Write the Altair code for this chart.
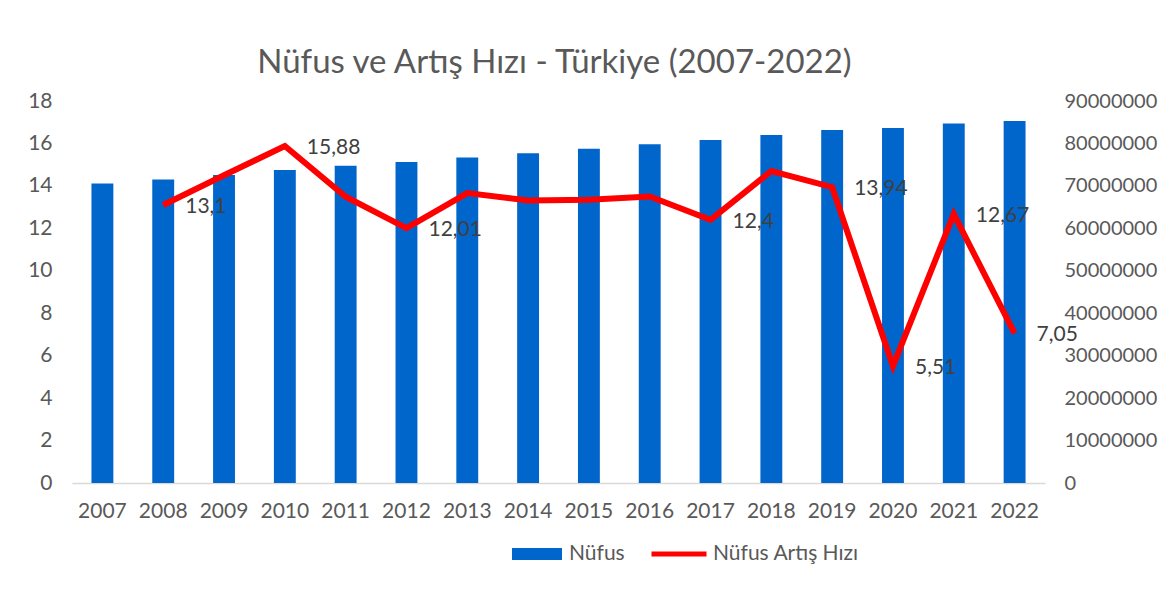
import altair as alt
import pandas as pd

years = [str(y) for y in range(2007, 2023)]
population = [70586256, 71517100, 72561312, 73722988, 74724269, 75627384, 76667864,
              77695904, 78741053, 79814871, 80810525, 82003882, 83154997, 83614362,
              84680273, 85279553]
rate = [None, 13.1, 14.5, 15.88, 13.49, 12.01, 13.66, 13.31, 13.35, 13.5, 12.4,
        14.7, 13.94, 5.51, 12.67, 7.05]
rate_labels = ["", "13,1", "", "15,88", "", "12,01", "", "", "", "", "12,4",
               "", "13,94", "5,51", "12,67", "7,05"]

df = pd.DataFrame({"year": years, "pop": population, "rate": rate, "lab": rate_labels})

FONT = "Lato"
GREY = "#595959"

x_enc = alt.X("year:O", title=None,
              scale=alt.Scale(paddingInner=0.64, paddingOuter=0.32),
              axis=alt.Axis(labelAngle=0, labelFontSize=21, labelColor=GREY, labelFont=FONT,
                            domainColor="#D9D9D9", domainWidth=1.5, ticks=False,
                            labelPadding=17, grid=False))

bars = alt.Chart(df).transform_calculate(series="'Nüfus'").mark_bar(color="#0066CC").encode(
    x=x_enc,
    y=alt.Y("pop:Q", title=None,
            scale=alt.Scale(domain=[0, 90000000], nice=False),
            axis=alt.Axis(orient="right", values=list(range(0, 90000001, 10000000)),
                          format="d", labelFontSize=20, labelColor=GREY, labelFont=FONT,
                          domain=False, ticks=False, grid=False, labelPadding=19)),
    fill=alt.Fill("series:N", scale=alt.Scale(domain=["Nüfus"], range=["#0066CC"]),
                  legend=alt.Legend(title=None, orient="none", legendX=440, legendY=428,
                                    symbolType="M-1,-0.24L1,-0.24L1,0.24L-1,0.24Z",
                                    symbolSize=2500, symbolStrokeWidth=0,
                                    labelFontSize=21, labelColor=GREY, labelFont=FONT,
                                    labelOffset=7, padding=0)),
)

line = alt.Chart(df).transform_calculate(series="'Nüfus Artış Hızı'").mark_line(
    strokeWidth=6, strokeJoin="miter", strokeCap="butt").encode(
    x="year:O",
    y=alt.Y("rate:Q", title=None,
            scale=alt.Scale(domain=[0, 18], nice=False),
            axis=alt.Axis(orient="left", values=list(range(0, 19, 2)),
                          labelFontSize=21, labelColor=GREY, labelFont=FONT,
                          domain=False, ticks=False, grid=False, labelPadding=20)),
    stroke=alt.Stroke("series:N", scale=alt.Scale(domain=["Nüfus Artış Hızı"], range=["#FF0000"]),
                      legend=alt.Legend(title=None, orient="none", legendX=577, legendY=423,
                                        symbolType="stroke", symbolSize=3025,
                                        symbolStrokeWidth=5,
                                        labelFontSize=21, labelColor=GREY, labelFont=FONT,
                                        labelOffset=4, padding=0)),
)

text = alt.Chart(df).transform_filter("datum.lab != ''").mark_text(
    align="left", baseline="middle", dx=22, dy=2, fontSize=21, font=FONT, color="#404040").encode(
    x="year:O",
    y=alt.Y("rate:Q", scale=alt.Scale(domain=[0, 18], nice=False), axis=None),
    text="lab:N",
)

chart = alt.layer(bars, line, text).resolve_scale(y="independent").properties(
    width=973, height=382,
    autosize=alt.AutoSizeParams(type="none"),
    padding={"left": 64, "top": 93, "right": 116, "bottom": 100},
    title=alt.Title("Nüfus ve Artış Hızı - Türkiye (2007-2022)", fontSize=33, font=FONT,
                    color=GREY, fontWeight="normal", anchor="middle", frame="group",
                    baseline="alphabetic", offset=-16, dx=-4),
).configure(background="white", view=alt.ViewConfig(stroke=None))

chart.save("out.html", embed_options={"renderer": "svg", "actions": False})
